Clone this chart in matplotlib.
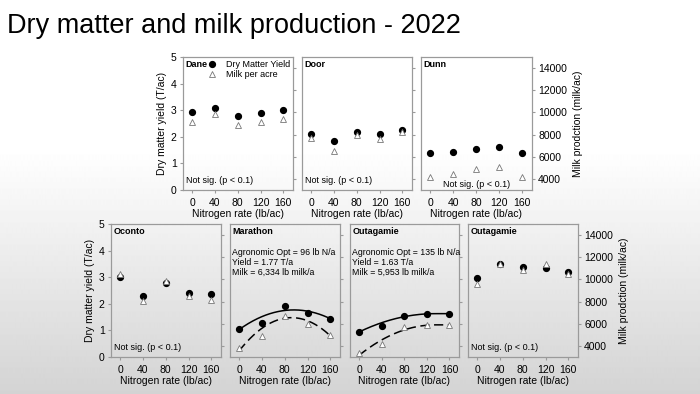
import numpy as np
import matplotlib.pyplot as plt

plt.rcParams['font.family'] = ['Liberation Sans', 'DejaVu Sans']

W, H = 700, 394

nitrogen = [0, 40, 80, 120, 160]
dm_ticks = [0, 1, 2, 3, 4, 5]
milk_ticks = [4000, 6000, 8000, 10000, 12000, 14000]

# dry matter (T/ac) and milk (lb milk/ac)
dane_dm = [2.93, 3.10, 2.78, 2.90, 2.99]
dane_milk = [9100, 9900, 8850, 9100, 9450]
door_dm = [2.09, 1.84, 2.19, 2.09, 2.26]
door_milk = [7650, 6550, 8000, 7600, 8200]
dunn_dm = [1.38, 1.42, 1.55, 1.63, 1.38]
dunn_milk = [4200, 4450, 4900, 5050, 4200]
oconto_dm = [3.00, 2.29, 2.77, 2.41, 2.35]
oconto_milk = [10500, 8050, 9850, 8500, 8100]
marathon_dm = [1.06, 1.28, 1.91, 1.66, 1.41]
marathon_milk = [3850, 4850, 6700, 6000, 4950]
outagamie_dm = [0.94, 1.15, 1.56, 1.60, 1.60]
outagamie_milk = [3350, 4200, 5700, 5850, 5850]
outagamie2_dm = [2.98, 3.51, 3.38, 3.36, 3.21]
outagamie2_milk = [9600, 11350, 10850, 11350, 10450]

# fitted response curves: (optimum N, value at optimum, value at 0 N, plateau?)
marathon_dm_fit = (96, 1.77, 1.03, False)
marathon_milk_fit = (92, 6550, 3550, False)
outagamie_dm_fit = (135, 1.63, 0.94, True)
outagamie_milk_fit = (135, 5900, 3150, True)


def response(fit):
    nopt, top, y0, plateau = fit
    x = np.linspace(0, 160, 200)
    y = top - (top - y0) * ((x - nopt) / nopt) ** 2
    if plateau:
        y = np.where(x > nopt, top, y)
    return x, y


def box(l, r, t, b):
    return [l / W, 1 - b / H, (r - l) / W, (b - t) / H]


fig = plt.figure(figsize=(7, 3.94), dpi=100)

# slide background: white fading to light grey at the bottom
bg = fig.add_axes([0, 0, 1, 1], zorder=-10)
rows = np.linspace(0, 1, 394)
shade = np.clip((rows - 0.38) / 0.62, 0, 1)
grad = 1 - 0.17 * shade
bg.imshow(np.repeat(grad[:, None], 2, axis=1), cmap='gray', vmin=0, vmax=1,
          aspect='auto', extent=[0, 1, 0, 1], origin='upper')
bg.axis('off')

fig.text(7 / W, 1 - 33 / H, 'Dry matter and milk production - 2022',
         fontsize=19.5, va='baseline', ha='left')

SPINE = '#9a9a9a'


def panel(rect, name, dm, milk, first=False, last=False, note='left',
          fits=None, text=None):
    ax = fig.add_axes(rect)
    ax.set_facecolor('none')
    ax.set_xlim(-16, 177)
    ax.set_ylim(0, 5)
    ax2 = ax.twinx()
    ax2.set_ylim(3000, 15000)
    for a in (ax, ax2):
        for s in a.spines.values():
            s.set_color(SPINE)
            s.set_linewidth(0.8)

    ax.set_xticks(nitrogen)
    ax.tick_params(axis='x', length=2.5, color=SPINE, labelsize=7.5, pad=3)
    ax.set_xlabel('Nitrogen rate (lb/ac)', fontsize=7.5, labelpad=1)
    ax.set_yticks(dm_ticks)
    ax.tick_params(axis='y', left=first, labelleft=first, length=2.5,
                   color=SPINE, labelsize=7.5, pad=2)
    if first:
        ax.set_ylabel('Dry matter yield (T/ac)', fontsize=7.5, labelpad=3)
    ax2.set_yticks(milk_ticks)
    ax2.tick_params(axis='y', right=True, labelright=last, length=2.5,
                    color=SPINE, labelsize=7.5, pad=2)
    if last:
        ax2.set_ylabel('Milk prodction (milk/ac)', fontsize=7.5, labelpad=4)

    if fits:
        x, y = response(fits[0])
        ax.plot(x, y, color='black', lw=1.1)
        x, y = response(fits[1])
        ax2.plot(x, y, color='black', lw=1.1, ls=(0, (6, 3)))

    ax.plot(nitrogen, dm, 'o', color='black', ms=4.2, zorder=3,
            label='Dry Matter Yield')
    ax2.plot(nitrogen, milk, '^', mfc='white', mec='#777777', mew=0.6,
             ms=4.5, zorder=2, label='Milk per acre')

    ax2.text(0.02, 0.975, name, transform=ax.transAxes, fontsize=6.5,
             fontweight='bold', va='top', ha='left')
    if note == 'left':
        ax2.text(0.025, 0.035, 'Not sig. (p < 0.1)', transform=ax.transAxes,
                 fontsize=6.5, va='bottom', ha='left')
    elif note == 'center':
        ax2.text(0.5, 0.005, 'Not sig. (p < 0.1)', transform=ax.transAxes,
                 fontsize=6.5, va='bottom', ha='center')
    if text:
        ax2.text(0.02, 0.82, text, transform=ax.transAxes, fontsize=6.3,
                 va='top', ha='left', linespacing=1.15)
    return ax, ax2


ax, ax2 = panel(box(183, 293, 57, 190), 'Dane', dane_dm, dane_milk, first=True)
h1, l1 = ax.get_legend_handles_labels()
h2, l2 = ax2.get_legend_handles_labels()
ax2.legend(h1 + h2, l1 + l2, loc='upper right', frameon=False, fontsize=6.5,
           handlelength=1.2, handletextpad=1.0, labelspacing=0.15,
           borderaxespad=0.1, borderpad=0.2)
panel(box(302, 412, 57, 190), 'Door', door_dm, door_milk)
panel(box(421, 532, 57, 190), 'Dunn', dunn_dm, dunn_milk, last=True,
      note='center')

panel(box(111, 221, 224, 357), 'Oconto', oconto_dm, oconto_milk, first=True)
panel(box(230, 340, 224, 357), 'Marathon', marathon_dm, marathon_milk,
      note=None, fits=(marathon_dm_fit, marathon_milk_fit),
      text='Agronomic Opt = 96 lb N/a\nYield = 1.77 T/a\nMilk = 6,334 lb milk/a')
panel(box(350, 459, 224, 357), 'Outagamie', outagamie_dm, outagamie_milk,
      note=None, fits=(outagamie_dm_fit, outagamie_milk_fit),
      text='Agronomic Opt = 135 lb N/a\nYield = 1.63 T/a\nMilk = 5,953 lb milk/a')
panel(box(468, 578, 224, 357), 'Outagamie', outagamie2_dm, outagamie2_milk,
      last=True)

fig.savefig('out.png', dpi=100)
